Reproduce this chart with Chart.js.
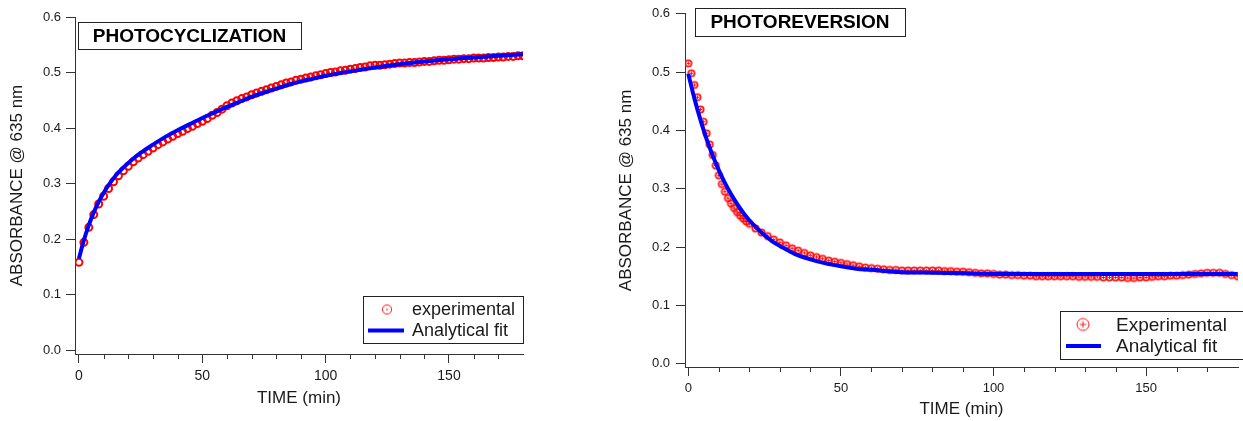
<!DOCTYPE html>
<html>
<head>
<meta charset="utf-8">
<script src="https://cdn.jsdelivr.net/npm/chart.js@4.4.1/dist/chart.umd.min.js"></script>
<style>
html, body { margin: 0; padding: 0; background: #fff; }
#left { position: absolute; left: 0; top: 0; }
#right { position: absolute; left: 600px; top: 0; }
</style>
</head>
<body>
<canvas id="left" width="600" height="421"></canvas>
<canvas id="right" width="643" height="421"></canvas>
<script>
// photocyclization: measured points (every 2 min) and analytical fit
const cycTime = [0,2,4,6,8,10,12,14,16,18,20,22,24,26,28,30,32,34,36,38,40,42,44,46,48,50,52,54,56,58,60,62,64,66,68,70,72,74,76,78,80,82,84,86,88,90,92,94,96,98,100,102,104,106,108,110,112,114,116,118,120,122,124,126,128,130,132,134,136,138,140,142,144,146,148,150,152,154,156,158,160,162,164,166,168,170,172,174,176,178,180];
const cycExp = [0.158,0.194,0.221,0.244,0.263,0.277,0.291,0.303,0.314,0.323,
  0.331,0.339,0.346,0.352,0.358,0.364,0.370,0.375,0.380,0.385,
  0.390,0.394,0.399,0.403,0.408,0.412,0.417,0.423,0.428,0.434,
  0.440,0.445,0.449,0.453,0.456,0.460,0.463,0.466,0.469,0.472,
  0.475,0.478,0.481,0.483,0.486,0.488,0.490,0.492,0.494,0.496,
  0.498,0.500,0.501,0.503,0.504,0.506,0.507,0.509,0.510,0.512,
  0.513,0.513,0.514,0.515,0.516,0.517,0.517,0.518,0.518,0.519,
  0.520,0.520,0.521,0.522,0.522,0.523,0.524,0.524,0.525,0.525,
  0.526,0.526,0.526,0.527,0.527,0.528,0.528,0.529,0.529,0.530,0.530];
const cycFitTime = [0,2,4,6,8,10,12,15,20,25,30,35,40,45,50,55,60,65,70,75,80,85,90,95,100,110,120,130,140,150,160,170,180];
const cycFit = [0.165,0.198,0.225,0.248,0.267,0.283,0.297,0.315,0.337,0.355,0.370,0.384,0.396,0.407,0.418,0.428,0.438,0.447,0.456,0.464,0.471,0.478,0.484,0.489,0.494,0.502,0.509,0.515,0.520,0.524,0.527,0.530,0.533];

// photoreversion
const revTime = [0,1,2,3,4,5,6,7,8,9,10,11,12,13,14,15,16,17,18,19,20,22,24,26,28,30,32,34,36,38,40,42,44,46,48,50,52,54,56,58,60,62,64,66,68,70,72,74,76,78,80,82,84,86,88,90,92,94,96,98,100,102,104,106,108,110,112,114,116,118,120,122,124,126,128,130,132,134,136,138,140,142,144,146,148,150,152,154,156,158,160,162,164,166,168,170,172,174,176,178,180];
const revExp = [0.515,0.498,0.478,0.457,0.436,0.415,0.395,0.376,0.358,0.340,0.323,0.308,0.295,0.284,0.275,0.267,0.260,0.254,0.249,0.244,0.240,
  0.232,0.225,0.219,0.213,0.208,0.203,0.198,0.194,0.190,0.186,
  0.183,0.180,0.177,0.175,0.173,0.171,0.169,0.167,0.165,0.164,
  0.163,0.162,0.161,0.161,0.160,0.160,0.160,0.160,0.160,0.160,
  0.160,0.159,0.159,0.158,0.158,0.157,0.156,0.155,0.155,0.154,
  0.153,0.153,0.152,0.152,0.151,0.151,0.150,0.150,0.150,0.150,
  0.150,0.150,0.150,0.149,0.149,0.149,0.149,0.148,0.148,0.148,
  0.148,0.147,0.147,0.148,0.148,0.149,0.150,0.150,0.151,0.151,
  0.152,0.153,0.154,0.155,0.156,0.156,0.156,0.154,0.152,0.150];
const revFitTime = [0,2,4,6,8,10,12,14,16,18,20,22,24,26,28,30,35,40,45,50,55,60,70,80,90,100,120,140,160,180];
const revFit = [0.497,0.455,0.418,0.385,0.357,0.332,0.310,0.291,0.274,0.259,0.246,0.235,0.225,0.216,0.208,0.202,0.188,0.179,0.172,0.167,0.163,0.161,0.157,0.156,0.155,0.154,0.154,0.154,0.154,0.154];

const yTicks = [0, 0.1, 0.2, 0.3, 0.4, 0.5, 0.6];
const xTicks = [0, 50, 100, 150];
const xMinor = [10, 20, 30, 40, 60, 70, 80, 90, 110, 120, 130, 140, 160, 170];

const FONT = "Arial, 'Liberation Sans', Helvetica, sans-serif";
const INK = '#1a1a1a';

const pts = (xs, ys) => xs.map((x, i) => ({ x: x, y: ys[i] }));

// little marker images (open ring with dot / ring with plus)
function marker(r, kind, lw) {
  const s = Math.ceil(r * 2 + 4);
  const c = document.createElement('canvas');
  c.width = c.height = s;
  const g = c.getContext('2d');
  const m = s / 2;
  g.strokeStyle = 'rgba(255,0,0,0.9)';
  g.fillStyle = 'rgba(255,0,0,0.9)';
  g.lineWidth = lw || 1;
  g.beginPath();
  g.arc(m, m, r, 0, Math.PI * 2);
  g.stroke();
  if (kind === 'plus') {
    const k = r * 0.55;
    g.lineWidth = 1;
    g.beginPath();
    g.moveTo(m - k, m); g.lineTo(m + k, m);
    g.moveTo(m, m - k); g.lineTo(m, m + k);
    g.stroke();
  } else if (kind === 'dot') {
    g.fillRect(m - 0.7, m - 0.7, 1.4, 1.4);
  }
  return c;
}

// minor ticks, boxed title and boxed legend, Igor style
const decor = {
  id: 'decor',
  afterDraw(chart, args, o) {
    const ctx = chart.ctx;
    const xs = chart.scales.x;
    const yb = chart.chartArea.bottom;
    ctx.save();
    ctx.strokeStyle = '#333';
    ctx.lineWidth = 1;
    o.minor.forEach(v => {
      const px = Math.round(xs.getPixelForValue(v)) + 0.5;
      ctx.beginPath();
      ctx.moveTo(px, yb);
      ctx.lineTo(px, yb + 5);
      ctx.stroke();
    });

    // title box
    const t = o.title;
    ctx.fillStyle = '#fff';
    ctx.fillRect(t.box[0], t.box[1], t.box[2], t.box[3]);
    ctx.strokeStyle = '#222';
    ctx.strokeRect(t.box[0] + 0.5, t.box[1] + 0.5, t.box[2], t.box[3]);
    ctx.fillStyle = '#000';
    ctx.font = 'bold ' + t.size + 'px ' + FONT;
    ctx.textAlign = 'center';
    ctx.textBaseline = 'middle';
    ctx.fillText(t.text, t.box[0] + t.box[2] / 2, t.box[1] + t.box[3] / 2 + 1);

    // legend box
    const L = o.legend;
    ctx.fillStyle = '#fff';
    ctx.fillRect(L.box[0], L.box[1], L.box[2], L.box[3]);
    ctx.strokeStyle = '#222';
    ctx.strokeRect(L.box[0] + 0.5, L.box[1] + 0.5, L.box[2], L.box[3]);
    ctx.font = L.size + 'px ' + FONT;
    ctx.textAlign = 'left';
    ctx.textBaseline = 'middle';
    L.order.forEach((di, i) => {
      const ds = chart.data.datasets[di];
      const y = L.rows[i];
      if (ds.showLine) {
        ctx.strokeStyle = ds.borderColor;
        ctx.lineWidth = 4;
        ctx.beginPath();
        ctx.moveTo(L.line[0], y);
        ctx.lineTo(L.line[1], y);
        ctx.stroke();
        ctx.lineWidth = 1;
      } else {
        const ic = L.icon;
        ctx.drawImage(ic, L.iconX - ic.width / 2, y - ic.height / 2);
      }
      ctx.fillStyle = INK;
      ctx.fillText(ds.label, L.textX, y + 1);
    });
    ctx.restore();
  }
};

function axes(c) {
  return {
    x: {
      type: 'linear', min: c.xMin, max: c.xMax,
      afterBuildTicks: a => { a.ticks = xTicks.map(v => ({ value: v })); },
      afterFit: s => { s.height = c.xH; },
      grid: { drawOnChartArea: false, drawTicks: true, tickLength: 9, color: '#333', tickWidth: 1 },
      border: { display: true, color: '#333', width: 1 },
      ticks: { padding: c.xPad, color: INK, autoSkip: false, maxRotation: 0,
               font: { size: c.xFont, family: FONT }, callback: v => String(v) },
      title: { display: true, text: 'TIME (min)', color: INK,
               font: { size: 17, family: FONT }, padding: { top: 0, bottom: c.xTitlePad } }
    },
    y: {
      type: 'linear', min: c.yMin, max: 0.6,
      afterBuildTicks: a => { a.ticks = yTicks.map(v => ({ value: v })); },
      afterFit: s => { s.width = c.yW; },
      grid: { drawOnChartArea: false, drawTicks: true, tickLength: 9, color: '#333', tickWidth: 1 },
      border: { display: true, color: '#333', width: 1 },
      ticks: { padding: c.yPad, color: INK, font: { size: c.yFont, family: FONT },
               callback: v => v.toFixed(1) },
      title: { display: true, text: 'ABSORBANCE @ 635 nm', color: INK,
               font: { size: 17, family: FONT }, padding: { top: c.yTitlePad, bottom: 0 } }
    }
  };
}

const ringPlus = marker(3.2, 'plus', 1.8);

new Chart(document.getElementById('left'), {
  type: 'scatter',
  data: {
    datasets: [
      { label: 'Analytical fit', data: pts(cycFitTime, cycFit), showLine: true,
        borderColor: '#0000ff', borderWidth: 4, pointRadius: 0,
        cubicInterpolationMode: 'monotone', order: 0 },
      { label: 'experimental', data: pts(cycTime, cycExp), showLine: false,
        pointStyle: 'circle', pointRadius: 3.5, borderWidth: 2,
        borderColor: '#ff0000', backgroundColor: 'rgba(0,0,0,0)', order: 1 }
    ]
  },
  options: {
    responsive: false, animation: false,
    layout: { padding: { left: 0, right: 77, top: 17, bottom: 0 } },
    scales: axes({ xMin: -1.6, xMax: 180, yMin: -0.0072, xH: 67, yW: 75,
                   xPad: 5, yPad: 5, xFont: 14, yFont: 13, xTitlePad: 12, yTitlePad: 7 }),
    plugins: {
      legend: { display: false }, tooltip: { enabled: false },
      decor: {
        minor: xMinor,
        title: { text: 'PHOTOCYCLIZATION', box: [78, 22, 223, 27], size: 19 },
        legend: { box: [363, 296, 160, 47], rows: [309.5, 330.5], order: [1, 0],
                  icon: marker(4.6, 'dot'), iconX: 387, line: [368, 404], textX: 412, size: 18 }
      }
    }
  },
  plugins: [decor]
});

new Chart(document.getElementById('right'), {
  type: 'scatter',
  data: {
    datasets: [
      { label: 'Analytical fit', data: pts(revFitTime, revFit), showLine: true,
        borderColor: '#0000ff', borderWidth: 4, pointRadius: 0,
        cubicInterpolationMode: 'monotone', order: 0 },
      { label: 'Experimental', data: pts(revTime, revExp), showLine: false,
        pointStyle: ringPlus, pointRadius: 3.2, order: 1 }
    ]
  },
  options: {
    responsive: false, animation: false,
    layout: { padding: { left: 0, right: 0, top: 8, bottom: 0 } },
    scales: axes({ xMin: -1.07, xMax: 180.1, yMin: -0.0056, xH: 54, yW: 85,
                   xPad: 5, yPad: 6, xFont: 13, yFont: 13, xTitlePad: 1, yTitlePad: 16 }),
    plugins: {
      legend: { display: false }, tooltip: { enabled: false },
      decor: {
        minor: xMinor,
        title: { text: 'PHOTOREVERSION', box: [95, 8, 210, 28], size: 19 },
        legend: { box: [460, 311, 200, 48], rows: [324.5, 346], order: [1, 0],
                  icon: marker(6, 'plus'), iconX: 483, line: [466, 501], textX: 516, size: 19 }
      }
    }
  },
  plugins: [decor]
});
</script>
</body>
</html>
